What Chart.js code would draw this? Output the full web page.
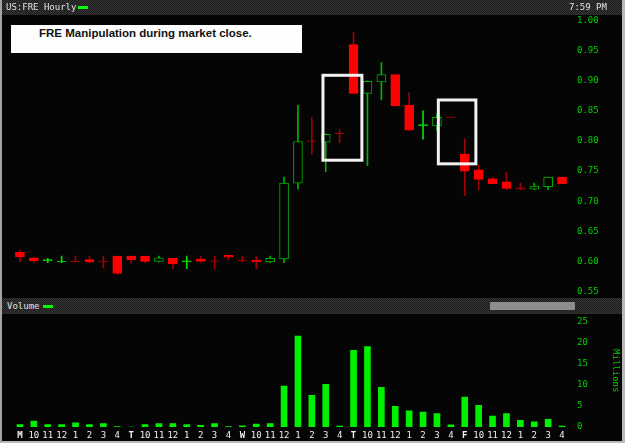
<!DOCTYPE html>
<html>
<head>
<meta charset="utf-8">
<title>FRE Hourly</title>
<script src="https://cdn.jsdelivr.net/npm/chart.js@4.4.1/dist/chart.umd.min.js"></script>
<style>
    html, body {
        margin: 0;
        padding: 0;
        background: #050505;
    }
    .frame {
        position: relative;
        width: 625px;
        height: 443px;
        overflow: hidden;
        background: #050505;
    }
    .frame-edge {
        position: absolute;
        left: 0;
        top: 0;
        width: 620px;
        height: 441px;
        border-left: 2px solid #a4a4a4;
        border-right: 3px solid #b8b8b8;
        border-bottom: 2px solid #b8b8b8;
        pointer-events: none;
        z-index: 5;
    }
    .bar-head {
        position: absolute;
        left: 0;
        width: 625px;
        background: repeating-conic-gradient(#343434 0 25%, #1d1d1d 0 50%) 0 0 / 2px 2px;
        font-family: "DejaVu Sans Mono", monospace;
        font-size: 9px;
        color: #e2e2e2;
        z-index: 2;
    }
    .bar-head .label {
        position: absolute;
        top: 2px;
    }
    .bar-head .swatch {
        position: absolute;
        width: 10px;
        height: 3px;
        background: #00ff00;
    }
    .title-box {
        position: absolute;
        left: 11px;
        top: 25px;
        width: 263px;
        height: 28px;
        padding-left: 28px;
        background: #fdfdfd;
        font-family: "Liberation Sans", Arial, sans-serif;
        font-weight: bold;
        font-size: 11.5px;
        color: #111;
        line-height: 16px;
        z-index: 3;
    }
    .scroll-thumb {
        position: absolute;
        left: 490px;
        top: 4px;
        width: 85px;
        height: 8px;
        background: #8e8e8e;
        border-radius: 1px;
    }
    canvas {
        position: absolute;
        left: 0;
    }
</style>
</head>
<body>
<div class="frame">
    <div class="bar-head" style="top:0;height:15px;">
        <span class="label" style="left:6px;">US:FRE Hourly</span>
        <span class="swatch" style="left:78px;top:6px;"></span>
        <span class="label" style="left:569px;">7:59 PM</span>
    </div>
    <div class="title-box">FRE Manipulation during market close.</div>

    <canvas id="priceChart" style="top:14px;" width="625" height="284"></canvas>

    <div class="bar-head" style="top:298px;height:16px;">
        <span class="label" style="left:7px;top:3px;">Volume</span>
        <span class="swatch" style="left:43px;top:7px;"></span>
        <span class="scroll-thumb"></span>
    </div>

    <canvas id="volumeChart" style="top:314px;" width="625" height="127"></canvas>
    <div class="frame-edge"></div>
</div>

<script>
// Hourly sessions, Monday to Friday
const hours = [
    'M', '10', '11', '12', '1', '2', '3', '4',
    'T', '10', '11', '12', '1', '2', '3', '4',
    'W', '10', '11', '12', '1', '2', '3', '4',
    'T', '10', '11', '12', '1', '2', '3', '4',
    'F', '10', '11', '12', '1', '2', '3', '4'
];
const dayLetters = ['M', 'T', 'W', 'F'];

const openPrice = [
    0.615, 0.606, 0.601, 0.599, 0.600, 0.603, 0.600, 0.609,
    0.609, 0.609, 0.600, 0.605, 0.599, 0.604, 0.601, 0.610,
    0.602, 0.602, 0.599, 0.604, 0.730, 0.800, 0.798, 0.813,
    0.960, 0.879, 0.898, 0.910, 0.859, 0.825, 0.825, 0.840,
    0.778, 0.752, 0.737, 0.732, 0.722, 0.720, 0.724, 0.740
];
const highPrice = [
    0.619, 0.607, 0.605, 0.609, 0.609, 0.609, 0.609, 0.609,
    0.609, 0.609, 0.609, 0.605, 0.609, 0.609, 0.609, 0.610,
    0.609, 0.609, 0.609, 0.740, 0.859, 0.839, 0.812, 0.819,
    0.980, 0.900, 0.930, 0.910, 0.880, 0.850, 0.845, 0.840,
    0.804, 0.760, 0.740, 0.748, 0.730, 0.730, 0.740, 0.740
];
const lowPrice = [
    0.599, 0.598, 0.598, 0.598, 0.599, 0.598, 0.589, 0.579,
    0.597, 0.598, 0.599, 0.588, 0.588, 0.599, 0.588, 0.603,
    0.599, 0.588, 0.598, 0.598, 0.720, 0.778, 0.749, 0.797,
    0.879, 0.759, 0.868, 0.858, 0.818, 0.803, 0.818, 0.839,
    0.709, 0.719, 0.729, 0.719, 0.719, 0.719, 0.719, 0.729
];
const closePrice = [
    0.608, 0.601, 0.603, 0.600, 0.599, 0.599, 0.599, 0.580,
    0.603, 0.600, 0.606, 0.596, 0.601, 0.600, 0.600, 0.607,
    0.601, 0.599, 0.605, 0.730, 0.799, 0.799, 0.811, 0.812,
    0.879, 0.899, 0.910, 0.858, 0.818, 0.827, 0.839, 0.839,
    0.750, 0.736, 0.729, 0.721, 0.720, 0.725, 0.740, 0.729
];

// Volume in millions
const volume = [
    0.6, 1.4, 0.6, 0.6, 1.0, 0.6, 0.8, 0.1,
    0.0, 0.6, 0.8, 0.8, 0.6, 0.4, 0.8, 0.1,
    0.3, 0.7, 0.8, 9.7, 21.5, 7.5, 10.1, 0.2,
    18.1, 19.0, 9.4, 4.9, 3.8, 3.5, 3.2, 0.5,
    7.1, 5.1, 2.6, 3.2, 1.6, 1.2, 1.8, 0.2
];

const priceTicks = [0.55, 0.60, 0.65, 0.70, 0.75, 0.80, 0.85, 0.90, 0.95, 1.00];
const volumeTicks = [0, 5, 10, 15, 20, 25];

// White boxes drawn over the chart (index range, price range)
const markBoxes = [
    { from: 21.8, to: 24.6, top: 0.909, bottom: 0.768 },
    { from: 30.1, to: 32.8, top: 0.868, bottom: 0.762 }
];

// tiny lineHeight keeps the scale from padding the plot for its labels
const AXIS_FONT = { family: 'DejaVu Sans Mono', size: 9, lineHeight: 0.1 };
const AXIS_GREEN = '#00d000';
const PLOT_BG = '#050505';

// Candle colours
function isDoji(i) {
    return Math.abs(closePrice[i] - openPrice[i]) < 0.0025;
}
function isUp(i) {
    return closePrice[i] >= openPrice[i];
}
const bodyFill = hours.map(function(h, i) {
    if (isDoji(i)) return isUp(i) ? '#00e000' : '#b00000';
    return isUp(i) ? PLOT_BG : '#ff0000';
});
const bodyEdge = hours.map(function(h, i) {
    if (isDoji(i)) return isUp(i) ? '#00e000' : '#b00000';
    return isUp(i) ? '#00b000' : '#ff0000';
});
const wickColor = hours.map(function(h, i) {
    if (isDoji(i)) return isUp(i) ? '#00e000' : '#a00000';
    return isUp(i) ? '#00b000' : '#a00000';
});

const wickData = hours.map(function(h, i) { return [lowPrice[i], highPrice[i]]; });
const bodyData = hours.map(function(h, i) { return [openPrice[i], closePrice[i]]; });

const rightAxisWidth = function(scale) { scale.width = 56; };
const hiddenGrid = { display: false, drawTicks: true, tickLength: 8 };

const markBoxPlugin = {
    id: 'markBoxes',
    afterDatasetsDraw: function(chart) {
        const ctx = chart.ctx;
        const x = chart.scales.x;
        const y = chart.scales.y;
        ctx.save();
        ctx.strokeStyle = '#f2f2f2';
        ctx.lineWidth = 3;
        markBoxes.forEach(function(b) {
            const left = x.getPixelForValue(b.from);
            const right = x.getPixelForValue(b.to);
            const top = y.getPixelForValue(b.top);
            const bottom = y.getPixelForValue(b.bottom);
            ctx.strokeRect(left, top, right - left, bottom - top);
        });
        ctx.restore();
    }
};

new Chart(document.getElementById('priceChart'), {
    type: 'bar',
    data: {
        labels: hours,
        datasets: [{
            label: 'Wick',
            data: wickData,
            backgroundColor: wickColor,
            borderWidth: 0,
            barThickness: 1,
            grouped: false,
            order: 2
        }, {
            label: 'Body',
            data: bodyData,
            backgroundColor: bodyFill,
            borderColor: bodyEdge,
            borderWidth: 1,
            borderSkipped: false,
            barThickness: 9,
            grouped: false,
            order: 1
        }]
    },
    options: {
        responsive: false,
        animation: false,
        layout: { padding: { left: 13, right: 0, top: 0, bottom: 0 }, autoPadding: false },
        plugins: {
            legend: { display: false },
            tooltip: { enabled: false }
        },
        scales: {
            x: {
                type: 'category',
                display: false,
                offset: true
            },
            y: {
                position: 'right',
                min: 0.54,
                max: 1.01,
                afterBuildTicks: function(scale) {
                    scale.ticks = priceTicks.map(function(v) { return { value: v }; });
                },
                afterFit: rightAxisWidth,
                grid: hiddenGrid,
                border: { display: false },
                ticks: {
                    color: AXIS_GREEN,
                    font: AXIS_FONT,
                    padding: 0,
                    callback: function(v) { return v.toFixed(2); }
                }
            }
        }
    },
    plugins: [markBoxPlugin]
});

new Chart(document.getElementById('volumeChart'), {
    type: 'bar',
    data: {
        labels: hours,
        datasets: [{
            label: 'Volume',
            data: volume,
            backgroundColor: '#00f000',
            borderWidth: 0,
            barThickness: 6
        }]
    },
    options: {
        responsive: false,
        animation: false,
        layout: { padding: { left: 13, right: 0, top: 0, bottom: 0 }, autoPadding: false },
        plugins: {
            legend: { display: false },
            tooltip: { enabled: false }
        },
        scales: {
            x: {
                type: 'category',
                offset: true,
                afterFit: function(scale) { scale.height = 14; },
                grid: { display: false, drawTicks: false },
                border: { display: false },
                ticks: {
                    color: '#f0f0f0',
                    padding: 3,
                    maxRotation: 0,
                    autoSkip: false,
                    font: function(ctx) {
                        const lbl = ctx.tick ? ctx.tick.label : '';
                        return {
                            family: 'DejaVu Sans Mono',
                            size: 9,
                            weight: dayLetters.includes(lbl) ? 'bold' : 'normal'
                        };
                    }
                }
            },
            y: {
                position: 'right',
                min: 0,
                max: 26.6,
                afterBuildTicks: function(scale) {
                    scale.ticks = volumeTicks.map(function(v) { return { value: v }; });
                },
                afterFit: rightAxisWidth,
                grid: hiddenGrid,
                border: { display: false },
                title: {
                    display: true,
                    text: 'Millions',
                    color: AXIS_GREEN,
                    font: { family: 'DejaVu Sans Mono', size: 9 },
                    padding: { top: 4, bottom: 2 }
                },
                ticks: {
                    color: AXIS_GREEN,
                    font: AXIS_FONT,
                    padding: 0
                }
            }
        }
    }
});
</script>
</body>
</html>
